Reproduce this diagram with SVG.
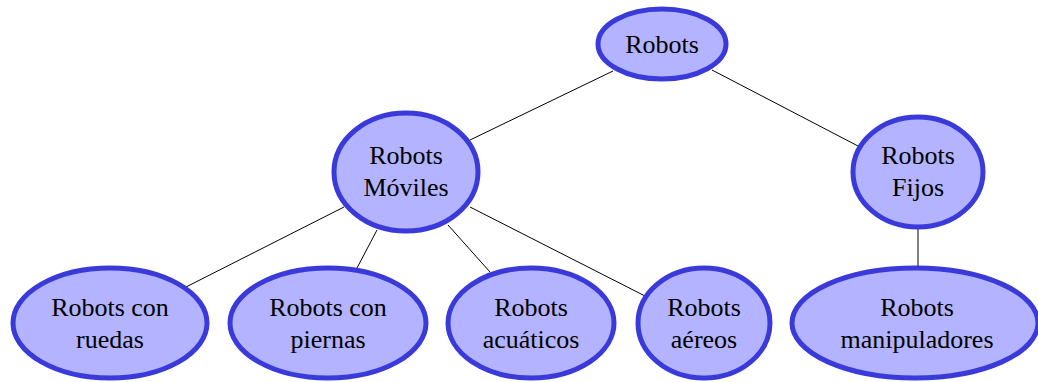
<svg xmlns="http://www.w3.org/2000/svg" width="1038" height="382" viewBox="0 0 1038 382">
<style>
.n ellipse{fill:#b3b3ff;stroke:#3a3adb;stroke-width:5}
.n text{font-family:'Liberation Serif','DejaVu Serif',serif;font-size:26px;fill:#000;text-anchor:middle}
.e line{stroke:#000;stroke-width:1}
</style>
<rect width="1038" height="382" fill="#fff"/>
<g id="edges" class="e">
<line x1="613" y1="71" x2="470" y2="140"/>
<line x1="712" y1="70" x2="858" y2="146"/>
<line x1="344" y1="207" x2="184" y2="288"/>
<line x1="377" y1="230" x2="357" y2="268"/>
<line x1="448" y1="225" x2="490" y2="272"/>
<line x1="470" y1="207" x2="645" y2="296"/>
<line x1="918" y1="229" x2="918" y2="268"/>
</g>
<g id="robots" class="n"><ellipse cx="662" cy="44" rx="64" ry="35"/><text x="662" y="53">Robots</text></g>
<g id="moviles" class="n"><ellipse cx="406" cy="172" rx="72" ry="59"/><text x="406" y="164">Robots</text><text x="406" y="196">Móviles</text></g>
<g id="fijos" class="n"><ellipse cx="918" cy="172" rx="65" ry="55"/><text x="918" y="164">Robots</text><text x="918" y="196">Fijos</text></g>
<g id="ruedas" class="n"><ellipse cx="110" cy="323" rx="97" ry="55"/><text x="110" y="316">Robots con</text><text x="110" y="348">ruedas</text></g>
<g id="piernas" class="n"><ellipse cx="328" cy="323" rx="98" ry="55"/><text x="328" y="316">Robots con</text><text x="328" y="348">piernas</text></g>
<g id="acuaticos" class="n"><ellipse cx="531" cy="323" rx="83" ry="55"/><text x="531" y="316">Robots</text><text x="531" y="348">acuáticos</text></g>
<g id="aereos" class="n"><ellipse cx="704" cy="323" rx="66" ry="55"/><text x="704" y="316">Robots</text><text x="704" y="348">aéreos</text></g>
<g id="manipuladores" class="n"><ellipse cx="915" cy="323" rx="123" ry="55"/><text x="917" y="316">Robots</text><text x="917" y="348">manipuladores</text></g>
</svg>
